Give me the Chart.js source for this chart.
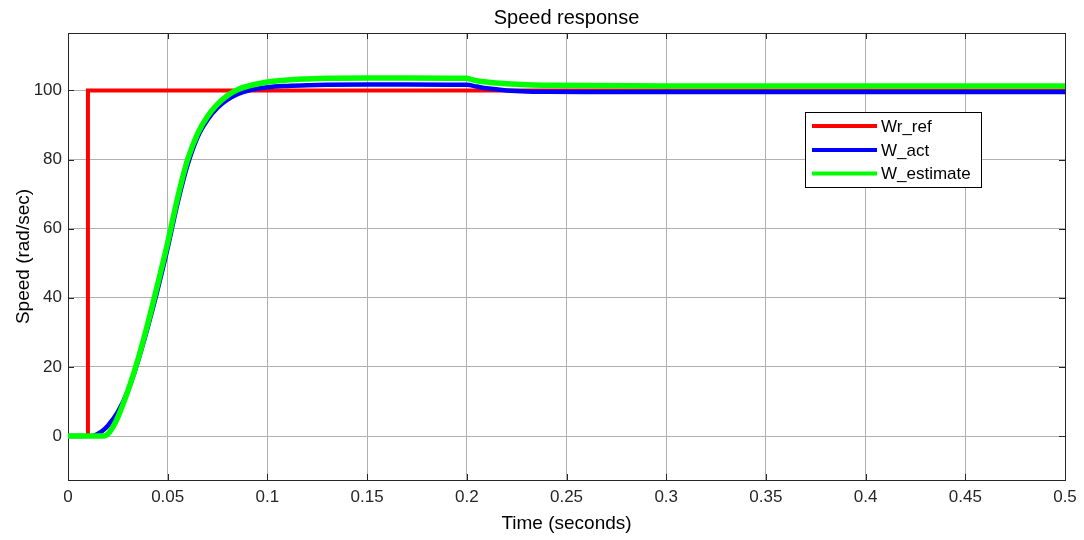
<!DOCTYPE html>
<html>
<head>
<meta charset="utf-8">
<script src="https://cdn.jsdelivr.net/npm/chart.js@4"></script>
<style>
  html, body { margin: 0; padding: 0; background: #fff; }
  #wrap { width: 1084px; height: 540px; }
</style>
</head>
<body>
<div id="wrap"><canvas id="speedChart" width="1084" height="540"></canvas></div>
<script>
// Reference speed, step at t = 0.01 s
const refTime = [0, 0.01, 0.01, 0.5];
const refSpeed = [0, 0, 100, 100];

// Actual (measured) speed
const actTime = [0, 0.011, 0.014, 0.017, 0.02, 0.025, 0.03, 0.035, 0.04, 0.045, 0.05, 0.055, 0.06, 0.065, 0.07,
  0.075, 0.08, 0.085, 0.09, 0.1, 0.11, 0.12, 0.13, 0.15, 0.17, 0.2, 0.205, 0.21, 0.22, 0.23, 0.24, 0.26,
  0.3, 0.4, 0.5];
const actSpeed = [0, 0, 0.4, 1.4, 3, 7, 13, 21.5, 31.5, 42.5, 54.5, 67.5, 78.5, 86.5, 91.5,
  95, 97.3, 98.9, 99.9, 100.9, 101.3, 101.5, 101.6, 101.7, 101.7, 101.6, 101.1, 100.6, 100.0, 99.7, 99.6, 99.5,
  99.5, 99.5, 99.5];

// Estimated speed
const estTime = [0, 0.018, 0.02, 0.0225, 0.025, 0.03, 0.035, 0.04, 0.045, 0.05, 0.055, 0.06, 0.065, 0.07, 0.075,
  0.08, 0.085, 0.09, 0.1, 0.11, 0.12, 0.13, 0.15, 0.17, 0.2, 0.202, 0.205, 0.21, 0.22, 0.23, 0.24, 0.26,
  0.3, 0.4, 0.5];
const estSpeed = [0, 0, 0.6, 2.6, 5.5, 13, 22, 32.5, 44, 56, 69, 80, 87.5, 92.5, 96,
  98.5, 100.2, 101.2, 102.4, 103, 103.3, 103.5, 103.6, 103.6, 103.5, 103.2, 102.8, 102.4, 101.9, 101.6, 101.5, 101.4,
  101.3, 101.3, 101.3];

const xTicks = [0, 0.05, 0.1, 0.15, 0.2, 0.25, 0.3, 0.35, 0.4, 0.45, 0.5];
const yTicks = [0, 20, 40, 60, 80, 100];

const FONT = "'Liberation Sans', Arial, Helvetica, sans-serif";
const TEXT = "#262626";

function toPoints(xs, ys) {
  return xs.map((x, i) => ({ x: x, y: ys[i] }));
}

// box, inward ticks, title, axis labels and legend, MATLAB style
const matlabFrame = {
  id: "matlabFrame",
  beforeDatasetsDraw(chart) {
    const { ctx, chartArea: a, scales } = chart;
    ctx.save();
    ctx.strokeStyle = TEXT;
    ctx.lineWidth = 1;
    ctx.beginPath();
    xTicks.forEach((v) => {
      const x = Math.round(scales.x.getPixelForValue(v)) + 0.5;
      ctx.moveTo(x, a.bottom); ctx.lineTo(x, a.bottom - 6);
      ctx.moveTo(x, a.top); ctx.lineTo(x, a.top + 6);
    });
    yTicks.forEach((v) => {
      const y = Math.round(scales.y.getPixelForValue(v)) + 0.5;
      ctx.moveTo(a.left, y); ctx.lineTo(a.left + 6, y);
      ctx.moveTo(a.right, y); ctx.lineTo(a.right - 6, y);
    });
    ctx.stroke();
    ctx.strokeRect(Math.round(a.left) + 0.5, Math.round(a.top) + 0.5,
      Math.round(a.right - a.left), Math.round(a.bottom - a.top));
    ctx.restore();
  },
  afterDraw(chart) {
    const { ctx, chartArea: a } = chart;
    const cx = (a.left + a.right) / 2;
    ctx.save();
    ctx.fillStyle = "#000";
    ctx.textAlign = "center";
    ctx.textBaseline = "alphabetic";
    ctx.font = "20px " + FONT;
    ctx.fillText("Speed response", cx, 24);
    ctx.font = "19px " + FONT;
    ctx.fillText("Time (seconds)", cx, 529);
    ctx.save();
    ctx.translate(29, (a.top + a.bottom) / 2);
    ctx.rotate(-Math.PI / 2);
    ctx.fillText("Speed (rad/sec)", 0, 0);
    ctx.restore();

    // legend box
    const lx = 805, ly = 112, lw = 176, lh = 75;
    ctx.fillStyle = "#fff";
    ctx.fillRect(lx, ly, lw, lh);
    ctx.strokeStyle = "#000";
    ctx.lineWidth = 1;
    ctx.strokeRect(lx + 0.5, ly + 0.5, lw, lh);
    const rows = [126, 150, 173.5];
    ctx.font = "17px " + FONT;
    ctx.textAlign = "left";
    ctx.textBaseline = "middle";
    chart.data.datasets.forEach((ds, i) => {
      ctx.strokeStyle = ds.borderColor;
      ctx.lineWidth = 4;
      ctx.beginPath();
      ctx.moveTo(812, rows[i]);
      ctx.lineTo(877, rows[i]);
      ctx.stroke();
      ctx.fillStyle = "#000";
      ctx.fillText(ds.label, 881, rows[i] + 1);
    });
    ctx.restore();
  }
};

const ctx = document.getElementById("speedChart").getContext("2d");
new Chart(ctx, {
  type: "line",
  data: {
    datasets: [
      { label: "Wr_ref", data: toPoints(refTime, refSpeed), borderColor: "#ff0000",
        borderWidth: 4, tension: 0, order: 3 },
      { label: "W_act", data: toPoints(actTime, actSpeed), borderColor: "#0000ff",
        borderWidth: 4.5, cubicInterpolationMode: "monotone", order: 2 },
      { label: "W_estimate", data: toPoints(estTime, estSpeed), borderColor: "#00ff00",
        borderWidth: 5.5, cubicInterpolationMode: "monotone", order: 1 }
    ]
  },
  options: {
    responsive: false,
    animation: false,
    devicePixelRatio: 1,
    layout: { padding: { top: 33, right: 19, left: 0, bottom: 0 } },
    elements: { point: { radius: 0 } },
    plugins: {
      legend: { display: false },
      title: { display: false },
      tooltip: { enabled: false }
    },
    scales: {
      x: {
        type: "linear",
        min: 0,
        max: 0.5,
        afterBuildTicks: (scale) => { scale.ticks = xTicks.map((v) => ({ value: v })); },
        afterFit: (scale) => { scale.height = 60; },
        grid: { color: "#b0b0b0", lineWidth: 1, drawTicks: false },
        border: { display: false },
        ticks: {
          padding: 7,
          color: TEXT,
          font: { family: FONT, size: 17 },
          maxRotation: 0,
          callback: (v) => String(+v.toFixed(2))
        }
      },
      y: {
        type: "linear",
        min: -12.7,
        max: 116.6,
        afterBuildTicks: (scale) => { scale.ticks = yTicks.map((v) => ({ value: v })); },
        afterFit: (scale) => { scale.width = 68; },
        grid: { color: "#b0b0b0", lineWidth: 1, drawTicks: false },
        border: { display: false },
        ticks: {
          padding: 6,
          color: TEXT,
          font: { family: FONT, size: 17 },
          callback: (v) => String(v)
        }
      }
    }
  },
  plugins: [matlabFrame]
});
</script>
</body>
</html>
